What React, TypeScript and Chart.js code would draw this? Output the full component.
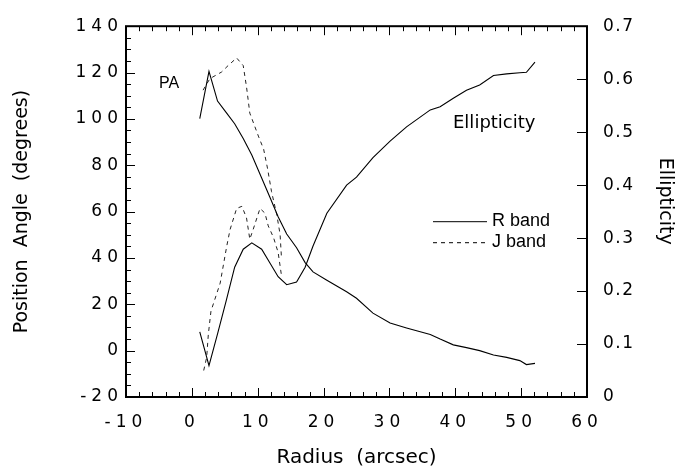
import React, { useEffect, useRef } from 'react';
import { Chart, registerables } from 'chart.js';

Chart.register(...registerables);

// ---- Data ----
// R band: radius (arcsec), position angle (deg), ellipticity
const rRadius = [1.2, 2.6, 3.9, 5.2, 6.5, 7.8, 9.1, 10.6, 11.9, 13.1, 14.4, 15.9, 17.2, 18.4, 20.5, 23.5, 25.0, 27.5, 30.1, 32.6, 36.2, 37.7, 39.7, 41.7, 43.7, 45.8, 47.8, 49.8, 50.8, 52.1];
const rPositionAngle = [100.1, 120.5, 107.7, 102.8, 97.9, 91.5, 84.4, 74.5, 65.9, 57.8, 50.3, 44.4, 38.0, 34.0, 30.4, 25.4, 22.6, 16.2, 11.9, 9.8, 7.0, 5.0, 2.5, 1.3, 0.0, -1.9, -2.9, -4.3, -6.0, -5.5];
const rEllipticity = [0.123, 0.059, 0.119, 0.181, 0.245, 0.279, 0.291, 0.279, 0.252, 0.227, 0.212, 0.217, 0.245, 0.285, 0.347, 0.400, 0.415, 0.452, 0.483, 0.510, 0.542, 0.548, 0.564, 0.579, 0.589, 0.607, 0.610, 0.612, 0.613, 0.632];

// J band: position angle profile
const jPaRadius = [1.7, 2.75, 4.5, 5.5, 6.8, 7.8, 8.3, 8.8, 10.1, 10.9, 11.5, 12.1, 12.9, 13.4, 13.6];
const jPositionAngle = [112.4, 117.4, 120.2, 123.0, 126.3, 123.0, 113.8, 102.5, 92.6, 86.9, 78.5, 68.6, 58.6, 50.1, 40.3];

// J band: ellipticity profile
const jEllRadius = [1.8, 2.25, 2.5, 2.9, 4.3, 5.3, 5.8, 6.8, 7.6, 8.3, 8.8, 9.3, 10.35, 11.1, 11.6, 12.4, 13.1, 13.6];
const jEllipticity = [0.050, 0.075, 0.118, 0.162, 0.215, 0.285, 0.316, 0.356, 0.360, 0.338, 0.298, 0.316, 0.356, 0.347, 0.323, 0.301, 0.273, 0.230];

// Axis ranges / tick steps
const xRange = [-10, 60];
const xMajorStep = 10;
const xMinorStep = 2;
const paRange = [-20, 140];
const paMajorStep = 20;
const paMinorStep = 5;
const ellRange = [0, 0.7];
const ellMajorStep = 0.1;

const seriesNames = ['R band', 'J band'];
const xTitle = 'Radius  (arcsec)';
const paTitle = 'Position  Angle  (degrees)';
const ellTitle = 'Ellipticity';
const paLabel = 'PA';
const ellLabel = 'Ellipticity';

const toPoints = (xs: number[], ys: number[]) => xs.map((x, i) => ({ x, y: ys[i] }));

const TICK_FONT = { family: 'DejaVu Sans', size: 17 };
const TITLE_FONT = { family: 'DejaVu Sans', size: 19 };

// widen the tracking of one scale's tick labels only
const trackLabels = (s: any, spacing: string) => {
  if (s.__tracked) return;
  s.__tracked = true;
  const orig = s.drawLabels.bind(s);
  s.drawLabels = (area: any) => {
    const c = s.ctx;
    const prev = c.letterSpacing;
    c.letterSpacing = spacing;
    orig(area);
    c.letterSpacing = prev || '0px';
  };
};

const framePlugin = {
  id: 'framePlugin',
  beforeDatasetsDraw(chart: any) {
    const { ctx, chartArea: a, scales } = chart;
    const xs = scales.x;
    const ys = scales.y;
    const y1 = scales.y1;
    ctx.save();
    ctx.strokeStyle = '#000';
    ctx.lineWidth = 1;
    const seg = (x0: number, y0: number, x1: number, y1_: number) => {
      ctx.beginPath();
      ctx.moveTo(x0, y0);
      ctx.lineTo(x1, y1_);
      ctx.stroke();
    };
    const nx = Math.round((xRange[1] - xRange[0]) / xMinorStep);
    for (let i = 0; i <= nx; i++) {
      const v = xRange[0] + i * xMinorStep;
      const major = Math.abs(Math.round(v / xMajorStep) * xMajorStep - v) < 1e-9;
      const len = major ? 9 : 5;
      const px = Math.round(xs.getPixelForValue(v)) + 0.5;
      seg(px, a.bottom, px, a.bottom - len);
      seg(px, a.top, px, a.top + len);
    }
    const ny = Math.round((paRange[1] - paRange[0]) / paMinorStep);
    for (let i = 0; i <= ny; i++) {
      const v = paRange[0] + i * paMinorStep;
      const major = Math.abs(Math.round(v / paMajorStep) * paMajorStep - v) < 1e-9;
      const len = major ? 9 : 5;
      const py = Math.round(ys.getPixelForValue(v)) + 0.5;
      seg(a.left, py, a.left + len, py);
    }
    const ne = Math.round((ellRange[1] - ellRange[0]) / ellMajorStep);
    for (let i = 0; i <= ne; i++) {
      const v = ellRange[0] + i * ellMajorStep;
      const py = Math.round(y1.getPixelForValue(v)) + 0.5;
      seg(a.right, py, a.right - 10, py);
    }
    ctx.lineWidth = 2;
    ctx.strokeRect(a.left, a.top, a.right - a.left, a.bottom - a.top);
    ctx.restore();
  },
  afterDraw(chart: any) {
    const { ctx, chartArea: a } = chart;
    ctx.save();
    ctx.letterSpacing = '0px';
    ctx.fillStyle = '#000';
    ctx.strokeStyle = '#000';
    ctx.lineWidth = 1;
    ctx.textBaseline = 'middle';
    ctx.textAlign = 'left';

    // in-plot labels
    ctx.font = '16px "Liberation Sans"';
    ctx.fillText(paLabel, a.left + 33, a.top + 57.5);
    ctx.font = '18px "DejaVu Sans"';
    ctx.fillText(ellLabel, a.left + 327, a.top + 97);

    // legend
    const lx0 = a.left + 307;
    const lx1 = a.left + 361;
    const ly = [a.top + 195, a.top + 216];
    ctx.font = '18px "Liberation Sans"';
    seriesNames.forEach((name, i) => {
      ctx.setLineDash(i === 0 ? [] : [4, 4]);
      ctx.beginPath();
      ctx.moveTo(lx0, ly[i] + 0.5);
      ctx.lineTo(lx1, ly[i] + 0.5);
      ctx.stroke();
      ctx.fillText(name, lx1 + 5, ly[i]);
    });
    ctx.setLineDash([]);

    // right axis title (set slightly above the axis centre, as in the original)
    ctx.save();
    ctx.translate(a.right + 78, a.top + 175);
    ctx.rotate(Math.PI / 2);
    ctx.textAlign = 'center';
    ctx.font = '19px "DejaVu Sans"';
    ctx.fillText(ellTitle, 0, 0);
    ctx.restore();

    ctx.restore();
  },
};

export default function App() {
  const ref = useRef<HTMLCanvasElement>(null);

  useEffect(() => {
    if (!ref.current) return;
    Chart.defaults.color = '#000';
    const chart = new Chart(ref.current, {
      type: 'line',
      data: {
        datasets: [
          {
            label: 'R band PA',
            data: toPoints(rRadius, rPositionAngle),
            yAxisID: 'y',
            borderColor: '#000',
            borderWidth: 1.1,
            pointRadius: 0,
            tension: 0,
            fill: false,
          },
          {
            label: 'R band ellipticity',
            data: toPoints(rRadius, rEllipticity),
            yAxisID: 'y1',
            borderColor: '#000',
            borderWidth: 1.1,
            pointRadius: 0,
            tension: 0,
            fill: false,
          },
          {
            label: 'J band PA',
            data: toPoints(jPaRadius, jPositionAngle),
            yAxisID: 'y',
            borderColor: '#222',
            borderWidth: 1,
            borderDash: [4, 4],
            pointRadius: 0,
            tension: 0,
            fill: false,
          },
          {
            label: 'J band ellipticity',
            data: toPoints(jEllRadius, jEllipticity),
            yAxisID: 'y1',
            borderColor: '#222',
            borderWidth: 1,
            borderDash: [4, 4],
            pointRadius: 0,
            tension: 0,
            fill: false,
          },
        ],
      },
      options: {
        responsive: false,
        devicePixelRatio: 1,
        animation: false,
        events: [],
        layout: { padding: { top: 20, left: 0, right: 0, bottom: 0 } },
        plugins: {
          legend: { display: false },
          tooltip: { enabled: false },
        },
        scales: {
          x: {
            type: 'linear',
            position: 'bottom',
            min: xRange[0],
            max: xRange[1],
            ticks: { stepSize: xMajorStep, font: TICK_FONT, color: '#000', padding: 15, maxRotation: 0 },
            grid: { display: false, drawTicks: false },
            border: { display: false },
            title: { display: true, text: xTitle, font: { family: 'DejaVu Sans', size: 20 }, color: '#000', padding: { top: 0, bottom: 0 } },
            afterFit: (s: any) => { s.height = 73; trackLabels(s, '5px'); },
          },
          y: {
            type: 'linear',
            position: 'left',
            min: paRange[0],
            max: paRange[1],
            ticks: { stepSize: paMajorStep, font: TICK_FONT, color: '#000', padding: 3 },
            grid: { display: false, drawTicks: false },
            border: { display: false },
            title: { display: true, text: paTitle, font: TITLE_FONT, color: '#000', padding: { top: 11, bottom: 0 } },
            afterFit: (s: any) => { s.width = 126; trackLabels(s, '5px'); },
          },
          y1: {
            type: 'linear',
            position: 'right',
            min: ellRange[0],
            max: ellRange[1],
            ticks: { stepSize: ellMajorStep, font: TICK_FONT, color: '#000', padding: 16 },
            grid: { display: false, drawTicks: false },
            border: { display: false },
            title: { display: false },
            afterFit: (s: any) => { s.width = 94; trackLabels(s, '1.5px'); },
          },
        },
      } as any,
      plugins: [framePlugin],
    });
    return () => chart.destroy();
  }, []);

  return (
    <div style={{ position: 'absolute', left: 0, top: 0, width: 681, height: 470, background: '#fff' }}>
      <canvas ref={ref} width={681} height={470} style={{ display: 'block' }} />
    </div>
  );
}
